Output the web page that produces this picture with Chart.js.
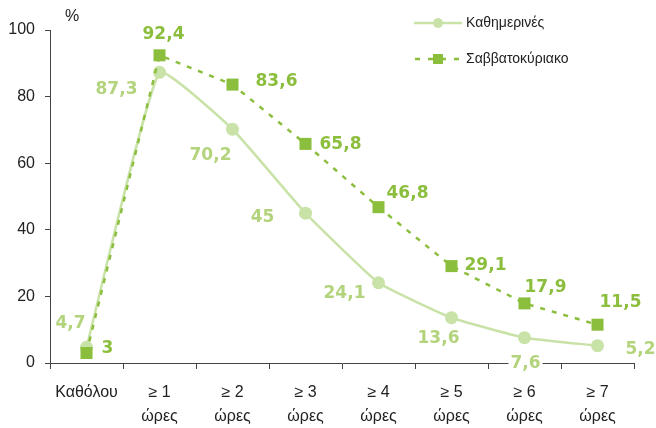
<!DOCTYPE html>
<html><head><meta charset="utf-8">
<script src="https://cdn.jsdelivr.net/npm/chart.js@4/dist/chart.umd.min.js"></script>
<style>html,body{margin:0;padding:0;background:#fff}#wrap{width:656px;height:428px;position:relative}</style>
</head><body><div id="wrap"><canvas id="c" width="656" height="428"></canvas></div>
<script>
const categories = ["Καθόλου", ["≥ 1","ώρες"], ["≥ 2","ώρες"], ["≥ 3","ώρες"], ["≥ 4","ώρες"], ["≥ 5","ώρες"], ["≥ 6","ώρες"], ["≥ 7","ώρες"]];
const seriesNames = ["Καθημερινές", "Σαββατοκύριακο"];
const weekdayValues = [4.7, 87.3, 70.2, 45, 24.1, 13.6, 7.6, 5.2];
const weekendValues = [3, 92.4, 83.6, 65.8, 46.8, 29.1, 17.9, 11.5];
const yTickValues = [0, 20, 40, 60, 80, 100];
const yUnit = "%";

// label placement offsets (style only)
const weekdayLabelOffsets = [[-16,-25],[-43,16],[-22,25],[-43,3],[-34,10],[-13,20],[1,25],[43,3]];
const weekendLabelOffsets = [[21,-5],[4,-22],[44,-4],[35,0],[29,-15],[34,-2],[21,-17],[23,-23]];

const C_WD_LINE = '#c9e2a8';
const C_WD_TEXT = '#b3d47c';
const C_WE = '#8cbe3e';
const FONT_TICK = {family: 'Liberation Sans, Arial, sans-serif', size: 16, lineHeight: 1.5};

const fmt = v => String(v).replace('.', ',');

const labelPlugin = {
  id: 'vlabels',
  afterDatasetsDraw(chart) {
    const ctx = chart.ctx;
    ctx.save();
    ctx.font = 'bold 17px "DejaVu Sans", sans-serif';
    ctx.textAlign = 'center';
    ctx.textBaseline = 'middle';
    chart.data.datasets.forEach((ds, di) => {
      const meta = chart.getDatasetMeta(di);
      const offs = ds.labelOffsets;
      meta.data.forEach((pt, i) => {
        const t = fmt(ds.data[i]);
        const x = pt.x + offs[i][0], y = pt.y + offs[i][1];
        const w = ctx.measureText(t).width;
        ctx.fillStyle = '#fff';
        ctx.fillRect(x - w/2 - 2, y - 8, w + 4, 16);
        ctx.fillStyle = ds.labelColor;
        ctx.fillText(t, x, y + 1);
      });
    });
    ctx.restore();
  }
};

const extrasPlugin = {
  id: 'extras',
  afterDraw(chart) {
    const ctx = chart.ctx;
    ctx.save();
    ctx.font = '16px "Liberation Sans", Arial, sans-serif';
    ctx.fillStyle = '#222';
    ctx.textAlign = 'center';
    ctx.textBaseline = 'middle';
    ctx.fillText(yUnit, 72, 17);
    // legend
    ctx.font = '14px "Liberation Sans", Arial, sans-serif';
    ctx.textAlign = 'left';
    // weekday
    ctx.strokeStyle = C_WD_LINE; ctx.lineWidth = 2.5;
    ctx.beginPath(); ctx.moveTo(414, 23); ctx.lineTo(462, 23); ctx.stroke();
    ctx.fillStyle = C_WD_LINE;
    ctx.beginPath(); ctx.arc(438, 23, 5, 0, Math.PI*2); ctx.fill();
    ctx.fillStyle = '#222';
    ctx.fillText(seriesNames[0], 466, 23);
    // weekend
    ctx.strokeStyle = C_WE; ctx.setLineDash([5,8]);
    ctx.beginPath(); ctx.moveTo(415, 59); ctx.lineTo(462, 59); ctx.stroke();
    ctx.setLineDash([]);
    ctx.fillStyle = C_WE;
    ctx.fillRect(433, 54, 10, 10);
    ctx.fillStyle = '#222';
    ctx.fillText(seriesNames[1], 466, 59);
    ctx.restore();
  }
};

new Chart(document.getElementById('c'), {
  type: 'line',
  data: {
    labels: categories,
    datasets: [
      {
        label: seriesNames[0], data: weekdayValues, order: 1,
        borderColor: C_WD_LINE, backgroundColor: C_WD_LINE, borderWidth: 2.5,
        pointStyle: 'circle', pointRadius: 6.5, pointBorderWidth: 0,
        tension: 0.12, clip: false,
        labelOffsets: weekdayLabelOffsets, labelColor: C_WD_TEXT
      },
      {
        label: seriesNames[1], data: weekendValues, order: 0,
        borderColor: C_WE, backgroundColor: C_WE, borderWidth: 2.5, borderDash: [5,7],
        pointStyle: 'rect', pointRadius: 8.5, pointBorderWidth: 0,
        tension: 0, clip: false,
        labelOffsets: weekendLabelOffsets, labelColor: C_WE
      }
    ]
  },
  options: {
    responsive: false, animation: false,
    layout: {padding: {left: 0, right: 22, top: 30, bottom: 0}},
    plugins: {legend: {display: false}, tooltip: {enabled: false}},
    scales: {
      x: {
        type: 'category', offset: true,
        grid: {display: true, drawOnChartArea: false, drawTicks: true, tickLength: 6, color: '#444', offset: true},
        border: {color: '#444', width: 1},
        ticks: {font: FONT_TICK, color: '#222', padding: 12, maxRotation: 0, autoSkip: false},
        afterFit: s => { s.height = 65; }
      },
      y: {
        min: 0, max: 100,
        afterBuildTicks: s => { s.ticks = yTickValues.map(v => ({value: v})); },
        grid: {display: true, drawOnChartArea: false, drawTicks: true, tickLength: 5, color: '#444'},
        border: {color: '#444', width: 1},
        ticks: {font: {family: 'Liberation Sans, Arial, sans-serif', size: 16}, color: '#222', padding: 10},
        afterFit: s => { s.width = 50; }
      }
    }
  },
  plugins: [labelPlugin, extrasPlugin]
});
</script></body></html>
